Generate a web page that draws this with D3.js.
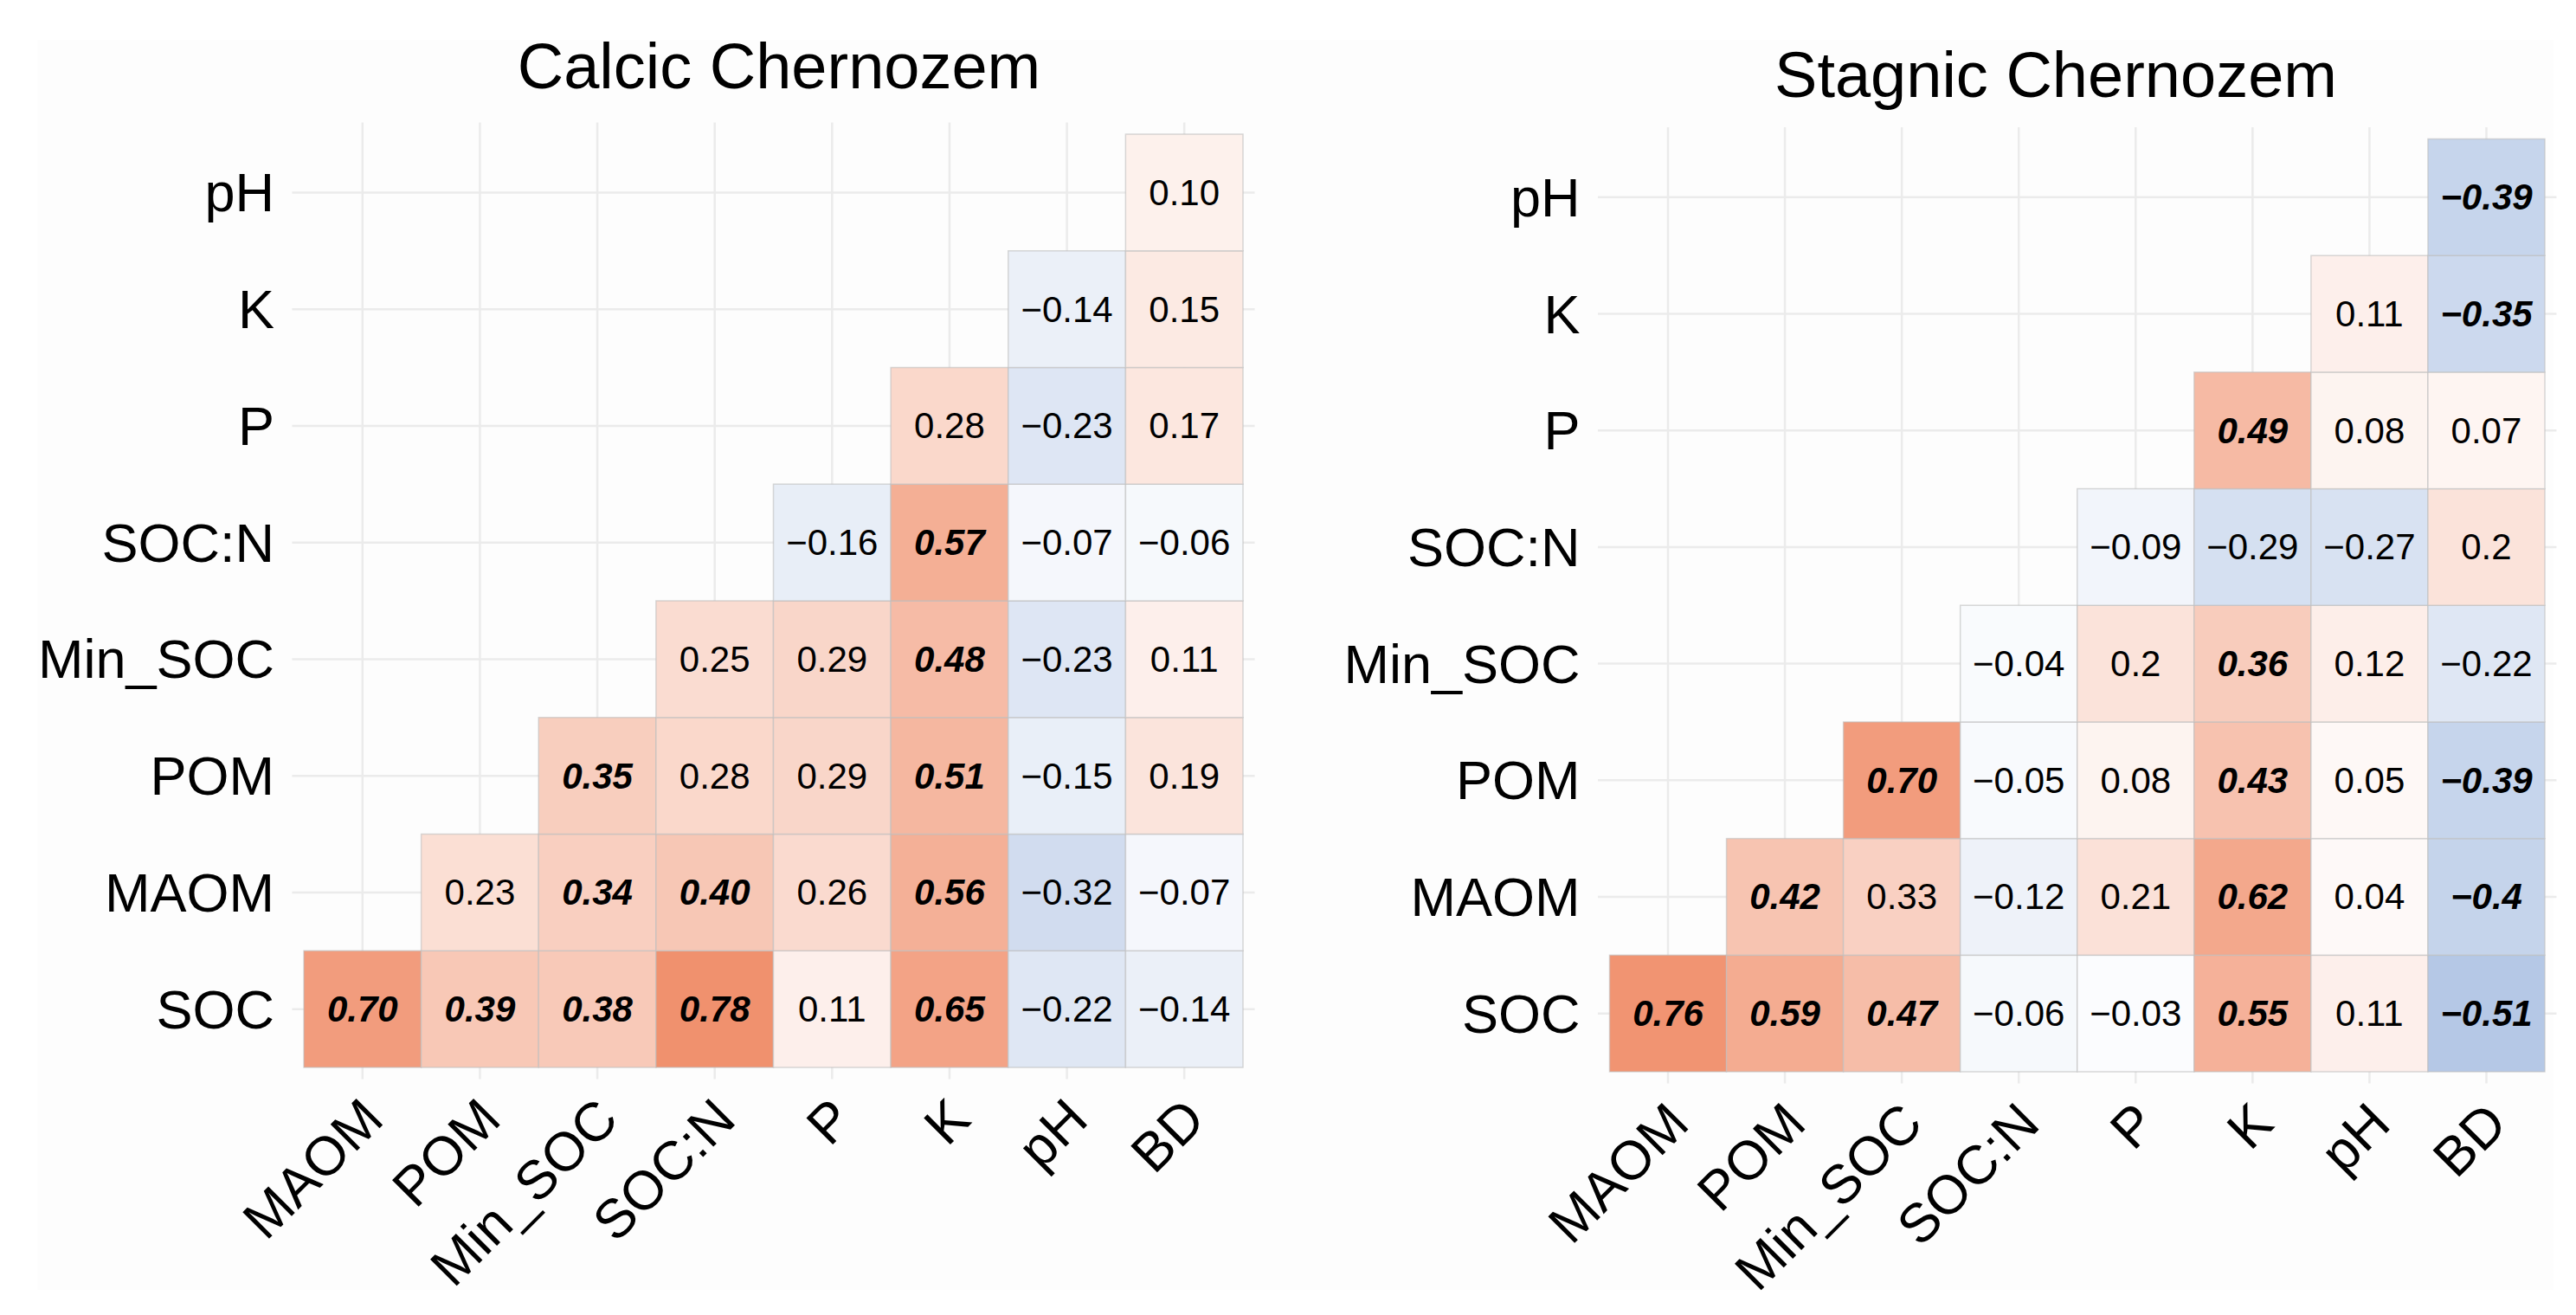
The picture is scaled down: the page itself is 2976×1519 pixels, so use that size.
<!DOCTYPE html>
<html>
<head>
<meta charset="utf-8">
<script src="https://cdn.jsdelivr.net/npm/d3@7"></script>
<style>
  html, body { margin: 0; padding: 0; background: #ffffff; }
  svg { display: block; }
  text { font-family: "Liberation Sans", Arial, Helvetica, sans-serif; fill: #000; }
</style>
</head>
<body>
<script>
// ---------------- data ----------------
// rows listed bottom -> top, columns left -> right
const rowVars = ["SOC", "MAOM", "POM", "Min_SOC", "SOC:N", "P", "K", "pH"];
const colVars = ["MAOM", "POM", "Min_SOC", "SOC:N", "P", "K", "pH", "BD"];

const panelTitles = ["Calcic Chernozem", "Stagnic Chernozem"];

// correlation labels (null = empty cell), one row per rowVars entry
const calcicValues = [
  ["0.70", "0.39", "0.38", "0.78", "0.11", "0.65", "-0.22", "-0.14"],
  [null, "0.23", "0.34", "0.40", "0.26", "0.56", "-0.32", "-0.07"],
  [null, null, "0.35", "0.28", "0.29", "0.51", "-0.15", "0.19"],
  [null, null, null, "0.25", "0.29", "0.48", "-0.23", "0.11"],
  [null, null, null, null, "-0.16", "0.57", "-0.07", "-0.06"],
  [null, null, null, null, null, "0.28", "-0.23", "0.17"],
  [null, null, null, null, null, null, "-0.14", "0.15"],
  [null, null, null, null, null, null, null, "0.10"]
];
const calcicSignificant = [
  [1, 1, 1, 1, 0, 1, 0, 0],
  [0, 0, 1, 1, 0, 1, 0, 0],
  [0, 0, 1, 0, 0, 1, 0, 0],
  [0, 0, 0, 0, 0, 1, 0, 0],
  [0, 0, 0, 0, 0, 1, 0, 0],
  [0, 0, 0, 0, 0, 0, 0, 0],
  [0, 0, 0, 0, 0, 0, 0, 0],
  [0, 0, 0, 0, 0, 0, 0, 0]
];

const stagnicValues = [
  ["0.76", "0.59", "0.47", "-0.06", "-0.03", "0.55", "0.11", "-0.51"],
  [null, "0.42", "0.33", "-0.12", "0.21", "0.62", "0.04", "-0.4"],
  [null, null, "0.70", "-0.05", "0.08", "0.43", "0.05", "-0.39"],
  [null, null, null, "-0.04", "0.2", "0.36", "0.12", "-0.22"],
  [null, null, null, null, "-0.09", "-0.29", "-0.27", "0.2"],
  [null, null, null, null, null, "0.49", "0.08", "0.07"],
  [null, null, null, null, null, null, "0.11", "-0.35"],
  [null, null, null, null, null, null, null, "-0.39"]
];
const stagnicSignificant = [
  [1, 1, 1, 0, 0, 1, 0, 1],
  [0, 1, 0, 0, 0, 1, 0, 1],
  [0, 0, 1, 0, 0, 1, 0, 1],
  [0, 0, 0, 0, 0, 1, 0, 0],
  [0, 0, 0, 0, 0, 0, 0, 0],
  [0, 0, 0, 0, 0, 1, 0, 0],
  [0, 0, 0, 0, 0, 0, 0, 1],
  [0, 0, 0, 0, 0, 0, 0, 1]
];

// ---------------- layout ----------------
const W = 2976, H = 1519;
const panels = [
  { title: panelTitles[0], values: calcicValues, sig: calcicSignificant,
    x0: 351, x1: 1436, yTop: 155, yBot: 1233, titleX: 900, titleY: 102 },
  { title: panelTitles[1], values: stagnicValues, sig: stagnicSignificant,
    x0: 1859.5, x1: 2940, yTop: 160.5, yBot: 1238, titleX: 2375, titleY: 112 }
];

const color = d3.scaleLinear()
  .domain([-1, 0, 1])
  .range(["#6e93ce", "#ffffff", "#ec7245"])
  .interpolate(d3.interpolateRgb);

const svg = d3.select("body").append("svg")
  .attr("width", W).attr("height", H)
  .attr("viewBox", `0 0 ${W} ${H}`);

svg.append("rect").attr("x", 0).attr("y", 0).attr("width", W).attr("height", H).attr("fill", "#ffffff");
svg.append("rect").attr("x", 43).attr("y", 46).attr("width", 2907).attr("height", 1444).attr("fill", "#fdfdfd");

const fmt = s => s.replace("-", "\u2212");

panels.forEach(p => {
  const g = svg.append("g");
  const x = d3.scaleBand().domain(colVars).range([p.x0, p.x1]).padding(0);
  const y = d3.scaleBand().domain(rowVars).range([p.yBot, p.yTop]).padding(0);
  const ex = x.bandwidth() * 0.1, ey = y.bandwidth() * 0.1;

  // grid lines
  g.append("g").selectAll("line").data(colVars).join("line")
    .attr("x1", d => x(d) + x.bandwidth() / 2).attr("x2", d => x(d) + x.bandwidth() / 2)
    .attr("y1", p.yTop - ey).attr("y2", p.yBot + ey)
    .attr("stroke", "#ebebeb").attr("stroke-width", 2.5);
  g.append("g").selectAll("line").data(rowVars).join("line")
    .attr("y1", d => y(d) + y.bandwidth() / 2).attr("y2", d => y(d) + y.bandwidth() / 2)
    .attr("x1", p.x0 - ex).attr("x2", p.x1 + ex)
    .attr("stroke", "#ebebeb").attr("stroke-width", 2.5);

  // cells
  const cells = [];
  rowVars.forEach((r, i) => colVars.forEach((c, j) => {
    const s = p.values[i][j];
    if (s !== null) cells.push({ row: r, col: c, label: s, value: +s, sig: p.sig[i][j] === 1 });
  }));

  g.append("g").selectAll("rect").data(cells).join("rect")
    .attr("x", d => x(d.col)).attr("y", d => y(d.row))
    .attr("width", x.bandwidth()).attr("height", y.bandwidth())
    .attr("fill", d => color(d.value))
    .attr("stroke", "#bebebe").attr("stroke-opacity", 0.6).attr("stroke-width", 1.5);

  g.append("g").selectAll("text").data(cells).join("text")
    .attr("x", d => x(d.col) + x.bandwidth() / 2)
    .attr("y", d => y(d.row) + y.bandwidth() / 2)
    .attr("text-anchor", "middle").attr("dominant-baseline", "central")
    .attr("font-size", 42)
    .attr("font-weight", d => d.sig ? "bold" : "normal")
    .attr("font-style", d => d.sig ? "italic" : "normal")
    .text(d => fmt(d.label));

  // y axis labels
  g.append("g").selectAll("text").data(rowVars).join("text")
    .attr("x", p.x0 - 34)
    .attr("y", d => y(d) + y.bandwidth() / 2)
    .attr("text-anchor", "end").attr("dominant-baseline", "central")
    .attr("font-size", 63)
    .text(d => d);

  // x axis labels (rotated 45 deg)
  g.append("g").selectAll("text").data(colVars).join("text")
    .attr("transform", d => {
      const ax = x(d) + x.bandwidth() / 2 + 27;
      const ay = p.yBot + 63;
      return `translate(${ax},${ay}) rotate(-45)`;
    })
    .attr("text-anchor", "end")
    .attr("font-size", 63)
    .text(d => d);

  // title
  g.append("text")
    .attr("x", p.titleX).attr("y", p.titleY)
    .attr("text-anchor", "middle")
    .attr("font-size", 74)
    .text(p.title);
});
</script>
</body>
</html>
